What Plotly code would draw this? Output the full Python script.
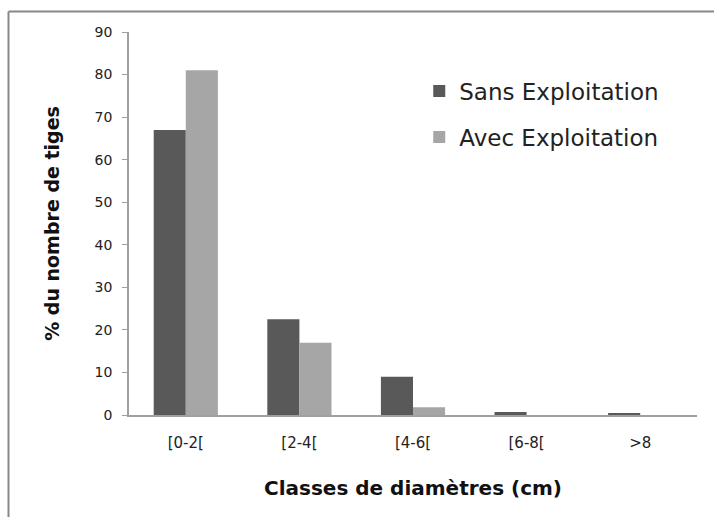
import plotly.graph_objects as go

categories = ["[0-2[", "[2-4[", "[4-6[", "[6-8[", ">8"]
sans_exploitation = [67, 22.5, 9, 0.7, 0.3]
avec_exploitation = [81, 17, 1.8, 0, 0]
y_ticks = [0, 10, 20, 30, 40, 50, 60, 70, 80, 90]

W, H = 714, 517
L, R, T, B = 129, 17, 31.5, 101.5

fig = go.Figure()
fig.add_trace(go.Bar(x=categories, y=sans_exploitation, name="Sans Exploitation",
                     marker=dict(color="#595959", line=dict(width=0)),
                     legendgroup="a"))
fig.add_trace(go.Bar(x=categories, y=avec_exploitation, name="Avec Exploitation",
                     marker=dict(color="#a6a6a6", line=dict(width=0)),
                     legendgroup="b"))

font_main = "DejaVu Sans, sans-serif"

fig.update_layout(
    width=W, height=H,
    margin=dict(l=L, r=R, t=T, b=B, pad=0),
    paper_bgcolor="white", plot_bgcolor="white",
    barmode="group", bargap=0.435, bargroupgap=0,
    font=dict(family=font_main, color="#222"),
    showlegend=True,
    legend=dict(x=0.511, y=0.902, xanchor="left", yanchor="top",
                font=dict(size=23, color="#222", family=font_main),
                traceorder="grouped", tracegroupgap=13,
                itemwidth=30, bgcolor="rgba(0,0,0,0)"),
    xaxis=dict(showline=True, linecolor="#a0a0a0", linewidth=1.5,
               ticks="", showgrid=False, ticklabelstandoff=13,
               tickfont=dict(size=15, color="#222"),
               title=dict(text="<b>Classes de diamètres (cm)</b>",
                          font=dict(size=20, color="#111"), standoff=30)),
    yaxis=dict(range=[0, 90], tickvals=y_ticks, showline=True,
               linecolor="#a0a0a0", linewidth=1.5, ticks="outside",
               ticklen=5, tickcolor="#a0a0a0", showgrid=False, zeroline=False,
               ticklabelstandoff=7,
               tickfont=dict(size=14, color="#222"),
               title=dict(text="<b>% du nombre de tiges</b>",
                          font=dict(size=19, color="#111"), standoff=30)),
)

# Chart area border (top and left edges visible; right and bottom run off the page)
fig.add_shape(type="line", xref="paper", yref="paper",
              x0=(8.5 - L) / (W - L - R), x1=(W + 5 - L) / (W - L - R),
              y0=1 + (T - 11) / (H - T - B), y1=1 + (T - 11) / (H - T - B),
              line=dict(color="#888", width=2))
fig.add_shape(type="line", xref="paper", yref="paper",
              x0=(8.5 - L) / (W - L - R), x1=(8.5 - L) / (W - L - R),
              y0=1 + (T - 11) / (H - T - B), y1=-(B + 5) / (H - T - B),
              line=dict(color="#888", width=2))

fig.write_html("out.html")
